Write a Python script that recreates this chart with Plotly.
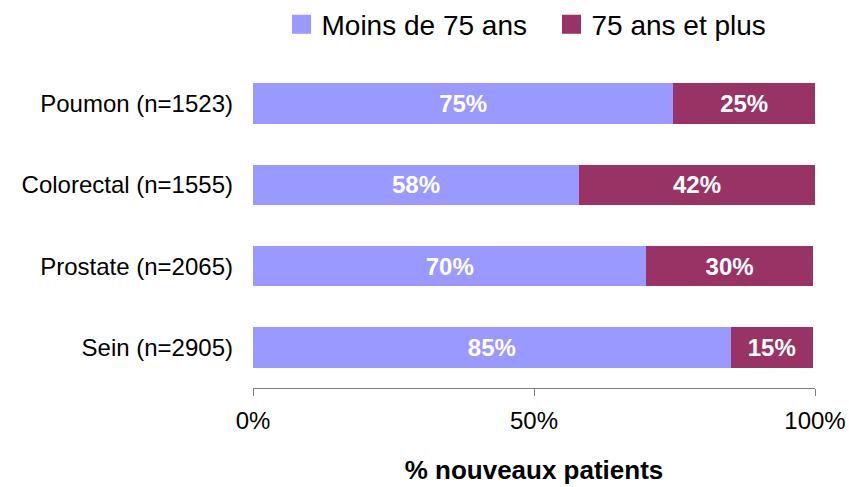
import plotly.graph_objects as go

categories = ["Sein (n=2905)", "Prostate (n=2065)", "Colorectal (n=1555)", "Poumon (n=1523)"]
moins_75 = [85.0, 70.0, 58.0, 74.8]
plus_75 = [14.6, 29.6, 42.0, 25.2]
series_names = ["Moins de 75 ans", "75 ans et plus"]
series_colors = ["#9999FF", "#993366"]
tick_vals = [0, 50, 100]
tick_text = ["0%", "50%", "100%"]

FONT = "Liberation Sans, Arial, sans-serif"

fig = go.Figure()
for vals, name, col in zip([moins_75, plus_75], series_names, series_colors):
    fig.add_trace(go.Bar(
        y=categories, x=vals, orientation="h", name=name, showlegend=False,
        marker=dict(color=col, line=dict(width=0)),
        texttemplate="%{x:.0f}%", textposition="inside", insidetextanchor="middle",
        textfont=dict(color="white", size=24, family=FONT, weight="bold"),
        hoverinfo="x+y+name",
    ))
    # legend entry with a larger square symbol
    fig.add_trace(go.Scatter(
        x=[None], y=[None], mode="markers", name=name,
        marker=dict(symbol="square", size=16, color=col, line=dict(width=3, color=col)),
    ))

fig.update_layout(
    barmode="stack",
    bargap=0.5,
    width=849, height=487,
    margin=dict(l=253, r=34, t=63, b=99, autoexpand=False),
    paper_bgcolor="white", plot_bgcolor="white",
    font=dict(family=FONT, color="black"),
    showlegend=True,
    legend=dict(
        orientation="h", xref="container", x=281.5 / 849, xanchor="left",
        yref="container", y=1 - 24.5 / 487, yanchor="middle",
        font=dict(size=28, family=FONT),
        itemwidth=30, traceorder="normal",
        entrywidth=225, entrywidthmode="pixels",
    ),
    xaxis=dict(
        range=[0, 100], tickvals=tick_vals, ticktext=tick_text,
        showgrid=False, zeroline=False,
        showline=True, linecolor="#808080", linewidth=1,
        ticks="outside", ticklen=7, tickcolor="#808080",
        tickfont=dict(size=24, family=FONT), ticklabelstandoff=4,
        title=dict(text="<b>% nouveaux patients</b>", font=dict(size=26, family=FONT), standoff=28),
    ),
    yaxis=dict(
        range=[-0.5, 3.5], showgrid=False, zeroline=False, showline=False,
        ticks="", tickfont=dict(size=24, family=FONT), ticklabelstandoff=19,
    ),
)

fig.write_html("out.html", config={"displayModeBar": False},
               post_script="document.body.style.margin='0';")
